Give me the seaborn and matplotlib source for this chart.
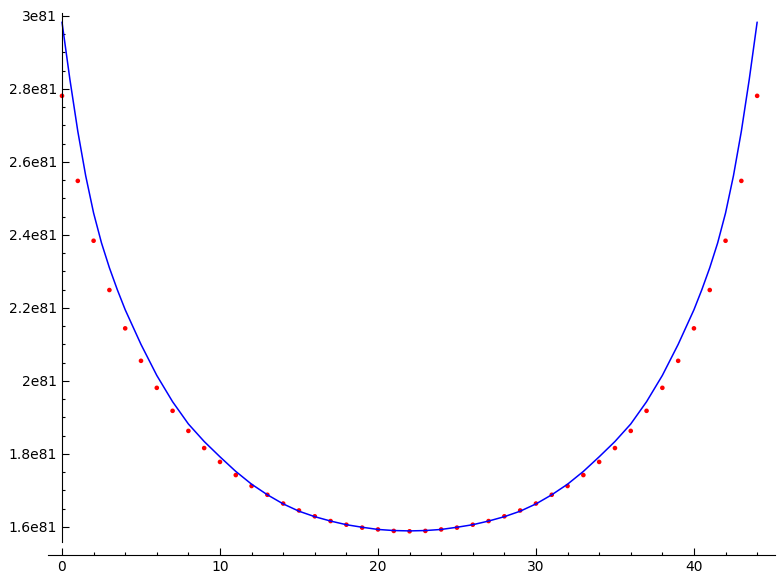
import numpy as np
import matplotlib
matplotlib.use('Agg')
import matplotlib.pyplot as plt
import seaborn as sns
from matplotlib.ticker import FixedLocator, MultipleLocator

sns.set_style('white')
plt.rcParams['font.family'] = ['DejaVu Sans']

# values in units of 1e81
scale = 1e81

dot_x = list(range(45))
dot_y = [2.781, 2.548, 2.384, 2.249, 2.144, 2.055, 1.981, 1.918, 1.863, 1.816,
         1.778, 1.742, 1.712, 1.688, 1.664, 1.645, 1.629, 1.616, 1.606, 1.598,
         1.593, 1.589, 1.588, 1.589, 1.593, 1.598, 1.606, 1.616, 1.629, 1.645,
         1.664, 1.688, 1.712, 1.742, 1.778, 1.816, 1.863, 1.918, 1.981, 2.055,
         2.144, 2.249, 2.384, 2.548, 2.781]

curve_x = [0, 0.5, 1, 1.5, 2, 2.5, 3, 3.5, 4, 5, 6, 7, 8, 9, 10, 11, 12, 13, 14,
           15, 16, 17, 18, 19, 20, 21, 22, 23, 24, 25, 26, 27, 28, 29, 30, 31, 32,
           33, 34, 35, 36, 37, 38, 39, 40, 40.5, 41, 41.5, 42, 42.5, 43, 43.5, 44]
curve_y = [2.983, 2.826, 2.684, 2.562, 2.460, 2.378, 2.310, 2.250, 2.195, 2.100,
           2.015, 1.943, 1.882, 1.834, 1.792, 1.752, 1.717, 1.688, 1.663, 1.643,
           1.628, 1.616, 1.606, 1.599, 1.593, 1.590, 1.589, 1.590, 1.593, 1.599,
           1.606, 1.616, 1.628, 1.643, 1.663, 1.688, 1.717, 1.752, 1.792, 1.834,
           1.882, 1.943, 2.015, 2.100, 2.195, 2.250, 2.310, 2.378, 2.460, 2.562,
           2.684, 2.826, 2.983]

ytick_vals = [1.6, 1.8, 2.0, 2.2, 2.4, 2.6, 2.8, 3.0]
ytick_labels = ['1.6e81', '1.8e81', '2e81', '2.2e81', '2.4e81', '2.6e81', '2.8e81', '3e81']
xtick_vals = [0, 10, 20, 30, 40]

fig = plt.figure(figsize=(7.81, 5.85), dpi=100)
ax = fig.add_axes([48 / 781, 30 / 585, 727 / 781, 542 / 585])

sns.lineplot(x=curve_x, y=np.array(curve_y) * scale, color='blue', lw=1.1, ax=ax)
sns.scatterplot(x=dot_x, y=np.array(dot_y) * scale, color='red', s=11,
                edgecolor='none', ax=ax)

ax.set_xlim(-0.886, 45.13)
ax.set_ylim(1.523 * scale, 3.008 * scale)

for side in ['top', 'right']:
    ax.spines[side].set_visible(False)
ax.spines['left'].set_position(('data', 0))
ax.spines['left'].set_bounds(1.558 * scale, 3.008 * scale)
for side in ['left', 'bottom']:
    ax.spines[side].set_color('black')
    ax.spines[side].set_linewidth(0.8)

ax.set_yticks(np.array(ytick_vals) * scale, ytick_labels)
minor_y = [v / 100 for v in range(165, 300, 5) if v % 20 != 0]
ax.yaxis.set_minor_locator(FixedLocator(np.array(minor_y) * scale))
ax.set_xticks(xtick_vals)
ax.xaxis.set_minor_locator(MultipleLocator(2))

ax.tick_params(which='both', left=True, bottom=True)
ax.tick_params(which='major', direction='in', length=4.7, width=0.8,
               labelsize=10, colors='black')
ax.tick_params(which='minor', direction='in', length=2.4, width=0.8, colors='black')
ax.set_xlabel('')
ax.set_ylabel('')
ax.grid(False)

fig.savefig('out.png', dpi=100)
